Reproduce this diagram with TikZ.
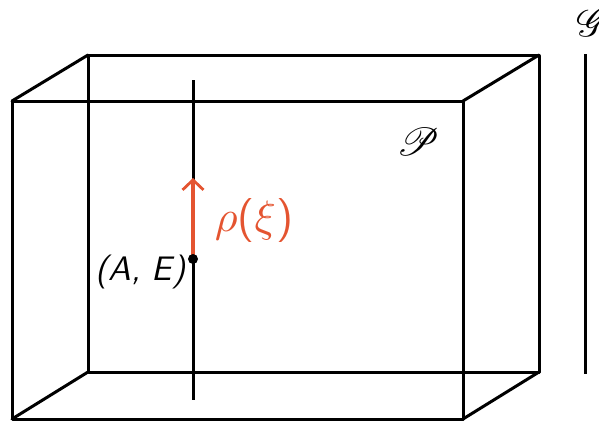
\documentclass[tikz,border=0pt]{standalone}
\usepackage{mathrsfs}
\usepackage{tikz}
\usetikzlibrary{arrows.meta,positioning}
\definecolor{flow}{RGB}{228,84,48}

\begin{document}
\begin{tikzpicture}[
          x=1pt, y=-1pt,
          edge/.style={line width=3pt, line cap=round, line join=round},
          fibre/.style={line width=3pt},
          lift/.style={-{Straight Barb[length=10pt, width=21pt, line width=2.8pt]}, line width=3.2pt, draw=flow},
          label/.style={inner sep=0pt, scale=3.4, font=\sffamily\slshape},
          scriptlabel/.style={inner sep=0pt, scale=3.9}
        ]
          \useasboundingbox (0,0) rectangle (599,423);

          % front and back faces of the box
          \coordinate (f1) at (12,101);
          \coordinate (f2) at (463,101);
          \coordinate (f3) at (463,419);
          \coordinate (f4) at (12,419);
          \coordinate (b1) at (88,55);
          \coordinate (b2) at (539,55);
          \coordinate (b3) at (539,372);
          \coordinate (b4) at (88,372);
          \draw[edge] (f1) -- (f2) -- (f3) -- (f4) -- cycle;
          \draw[edge] (b1) -- (b2) -- (b3) -- (b4) -- cycle;
          \draw[edge] (f1) -- (b1);
          \draw[edge] (f2) -- (b2);
          \draw[edge] (f3) -- (b3);
          \draw[edge] (f4) -- (b4);

          % fibre through the point
          \coordinate (top) at (193,80);
          \coordinate (bot) at (193,400);
          \draw[fibre] (top) -- (bot);
          \coordinate (pt) at (193,259);
          \coordinate (tip) at (193,178);
          \draw[lift] (pt) -- (tip);
          \fill (pt) circle (5pt);
          \node[label, anchor=east] (ae) at (186,272) {(A, E)};
          \node[inner sep=0pt, scale=4.4, text=flow, font=\sffamily] (rho) at (254,220) {$\rho$($\xi$)};

          % bundle and base
          \node[scriptlabel] (P) at (418,142) {$\mathscr{P}$};
          \coordinate (g1) at (585,54);
          \coordinate (g2) at (585,374);
          \draw[fibre] (g1) -- (g2);
          \node[scriptlabel] (G) at (592,23) {$\mathscr{G}$};
        \end{tikzpicture}
\end{document}
